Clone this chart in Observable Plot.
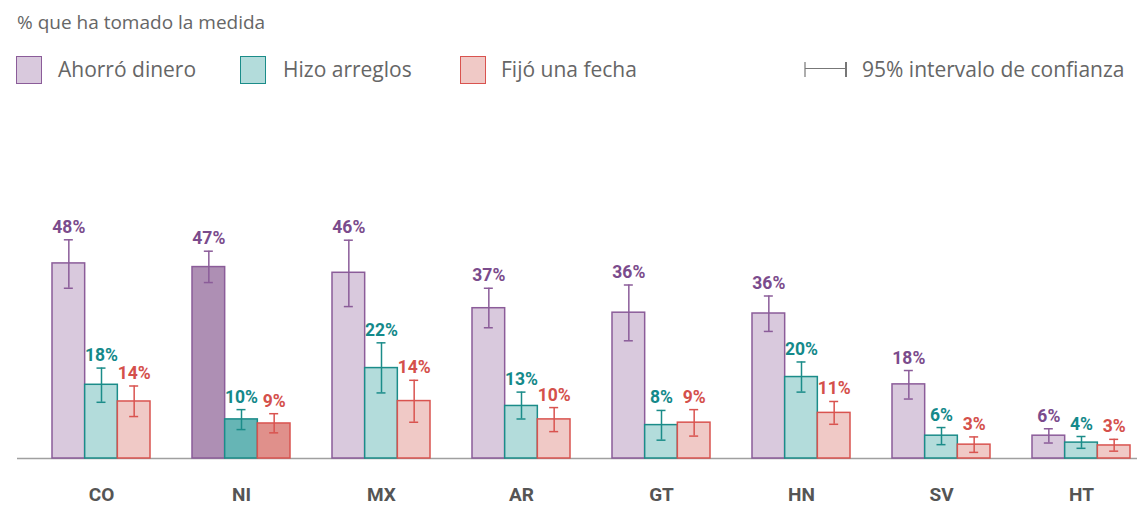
<!DOCTYPE html>
<html>
<head>
<meta charset="utf-8">
<script src="https://cdn.jsdelivr.net/npm/d3@7"></script>
<script src="https://cdn.jsdelivr.net/npm/@observablehq/plot@0.6"></script>
<style>
  html, body { margin: 0; padding: 0; background: #fff; }
  #wrap { position: relative; width: 1138px; height: 505px; overflow: hidden; font-family: "Open Sans", Lato, sans-serif; color: #666; }
  #header { position: relative; height: 100px; }
  .t { position: absolute; font-size: 21px; white-space: nowrap; line-height: 1; }
  .sw { position: absolute; width: 26px; height: 28px; box-sizing: border-box; border-width: 1.5px; border-style: solid; }
  #chart { position: absolute; left: 0; top: 100px; }
</style>
</head>
<body>
<div id="wrap">
  <div id="header"></div>
  <div id="chart"></div>
</div>
<script>
const countries = ["CO", "NI", "MX", "AR", "GT", "HN", "SV", "HT"];
const highlight = "NI";

const seriesNames = ["Ahorró dinero", "Hizo arreglos", "Fijó una fecha"];

const ahorro    = [47.9, 47.0, 45.6, 36.9, 35.8, 35.6, 18.2, 5.6];
const ahorroLo  = [41.8, 43.2, 37.3, 32.1, 28.9, 31.2, 14.6, 3.8];
const ahorroHi  = [53.7, 50.9, 53.6, 41.8, 42.6, 39.9, 21.6, 7.3];

const arreglos   = [18.1, 9.6, 22.2, 12.9, 8.2, 20.0, 5.6, 3.9];
const arreglosLo = [13.8, 7.1, 16.1, 9.7, 4.5, 16.3, 3.4, 2.5];
const arreglosHi = [22.2, 12.0, 28.4, 16.3, 11.8, 23.7, 7.6, 5.4];

const fecha   = [14.0, 8.6, 14.1, 9.6, 8.8, 11.2, 3.4, 3.2];
const fechaLo = [10.3, 6.3, 8.9, 6.6, 5.5, 8.4, 1.5, 1.8];
const fechaHi = [17.8, 11.0, 19.2, 12.5, 12.0, 14.0, 5.3, 4.7];

const titleText = "% que ha tomado la medida";
const ciText = "95% intervalo de confianza";

// styles per series
const styles = [
  {fill: "#d9c9dd", fillHi: "#ae8fb4", stroke: "#8b5c99", label: "#7b4b8c"},
  {fill: "#b3dcdb", fillHi: "#66b5b5", stroke: "#1b8c89", label: "#14898a"},
  {fill: "#f0c9c6", fillHi: "#e0908b", stroke: "#d9534f", label: "#d4504b"}
];

const series = [
  {name: seriesNames[0], v: ahorro, lo: ahorroLo, hi: ahorroHi},
  {name: seriesNames[1], v: arreglos, lo: arreglosLo, hi: arreglosHi},
  {name: seriesNames[2], v: fecha, lo: fechaLo, hi: fechaHi}
];

// Header (title + legend)
const header = document.getElementById("header");
function addText(txt, left, top, size) {
  const d = document.createElement("div");
  d.className = "t"; d.textContent = txt;
  d.style.left = left + "px"; d.style.top = top + "px";
  if (size) d.style.fontSize = size + "px";
  header.appendChild(d);
}
addText(titleText, 17, 13, 19);
const legendX = [16, 240, 460];
const legendTextX = [58, 283, 501];
series.forEach((s, i) => {
  const sw = document.createElement("div");
  sw.className = "sw";
  sw.style.left = legendX[i] + "px"; sw.style.top = "56px";
  sw.style.background = styles[i].fill; sw.style.borderColor = styles[i].stroke;
  header.appendChild(sw);
  addText(s.name, legendTextX[i], 59);
});
// CI legend symbol
const ns = "http://www.w3.org/2000/svg";
const ci = document.createElementNS(ns, "svg");
ci.setAttribute("width", 50); ci.setAttribute("height", 20);
ci.style.position = "absolute"; ci.style.left = "800px"; ci.style.top = "60px";
ci.innerHTML = '<g stroke="#777" fill="none"><line x1="5" x2="46" y1="8.5" y2="8.5" stroke-width="1.2"/><line x1="5" x2="5" y1="2" y2="17" stroke-width="1.2"/><line x1="46" x2="46" y1="2" y2="17" stroke-width="2"/></g>';
header.appendChild(ci);
addText(ciText, 862, 59);

// Data table
const rows = countries.map((c, j) => {
  const r = {country: c};
  series.forEach((s, i) => { r["v" + i] = s.v[j]; r["lo" + i] = s.lo[j]; r["hi" + i] = s.hi[j]; });
  return r;
});

// Layout of the band scale
const W = 1138, H = 405;
const mL = 17, mR = 1;
const padIn = 0.3, padOut = 0.15;
const step = (W - mL - mR) / (countries.length - padIn + 2 * padOut);
const bw = step * (1 - padIn);
const sub = bw / 3;
const cap = 9;

const marks = [Plot.ruleY([0], {stroke: "#a0a0a0", strokeWidth: 1.5})];
series.forEach((s, i) => {
  marks.push(Plot.barY(rows, {
    x: "country", y: "v" + i,
    insetLeft: i * sub, insetRight: (2 - i) * sub,
    fill: d => d.country === highlight ? styles[i].fillHi : styles[i].fill,
    stroke: styles[i].stroke, strokeWidth: 1.5
  }));
});
series.forEach((s, i) => {
  const off = (i - 1) * sub;
  marks.push(Plot.ruleX(rows, {
    x: "country", y1: "lo" + i, y2: "hi" + i, dx: off,
    stroke: styles[i].stroke, strokeWidth: 1.5
  }));
  ["lo", "hi"].forEach(k => {
    marks.push(Plot.tickY(rows, {
      x: "country", y: k + i,
      insetLeft: bw / 2 + off - cap / 2, insetRight: bw / 2 - off - cap / 2,
      stroke: styles[i].stroke, strokeWidth: 1.5
    }));
  });
  marks.push(Plot.text(rows, {
    x: "country", y: "hi" + i, dx: off, dy: -7,
    text: d => Math.round(d["v" + i]) + "%",
    lineAnchor: "bottom", fill: styles[i].label,
    fontSize: 17.5, fontWeight: "bold", fontFamily: "Roboto"
  }));
});
marks.push(Plot.axisX({
  tickSize: 0, tickPadding: 29, fontSize: 19, fontWeight: "bold",
  fill: "#555", label: null, fontFamily: "Roboto"
}));

const chart = Plot.plot({
  width: W, height: H,
  marginLeft: mL, marginRight: mR, marginTop: 134, marginBottom: 47,
  style: {fontFamily: "Roboto", background: "transparent"},
  x: {domain: countries, paddingInner: padIn, paddingOuter: padOut, align: 0.83, label: null, axis: null},
  y: {domain: [0, 55], axis: null},
  marks
});
document.getElementById("chart").appendChild(chart);
</script>
</body>
</html>
